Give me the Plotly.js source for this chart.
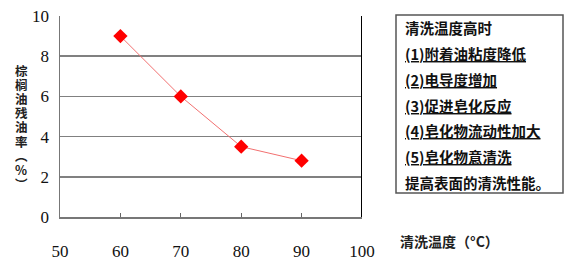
<!DOCTYPE html>
<html><head><meta charset="utf-8">
<script src="https://cdn.plot.ly/plotly-3.0.1.min.js"></script>
<style>body{margin:0;background:#fff}</style>
</head><body><div id="chart" style="width:574px;height:269px"></div>
<script>
const temperatures = [60, 70, 80, 90];
const residualOil = [9, 6, 3.5, 2.8];
const xTicks = [50, 60, 70, 80, 90, 100];
const yTicks = [0, 2, 4, 6, 8, 10];
const yTitleChars = ['棕','榈','油','残','油','率','︵','%','︶'];
const xTitle = '清洗温度（°C）';
const noteLines = [
  {text: '清洗温度高时', u: false},
  {text: '(1)附着油粘度降低', u: true},
  {text: '(2)电导度增加', u: true},
  {text: '(3)促进皂化反应', u: true},
  {text: '(4)皂化物流动性加大', u: true},
  {text: '(5)皂化物意清洗', u: true},
  {text: '提高表面的清洗性能。', u: false}
];

const W = 574, H = 269;
const m = {l: 60, r: 212, t: 16, b: 52};
const pw = W - m.l - m.r, ph = H - m.t - m.b;
const px = x => (x - m.l) / pw;
const py = y => (H - m.b - y) / ph;

const cjk = 'Noto Sans CJK SC, sans-serif';
const serif = 'Times New Roman, Liberation Serif, serif';

const annotations = [];
yTitleChars.forEach((c, i) => {
  annotations.push({xref: 'paper', yref: 'paper', x: px(21), y: py(70 + i * 14.2),
    text: '<b>' + c + '</b>', showarrow: false, xanchor: 'center', yanchor: 'middle',
    borderpad: 0, font: {family: cjk, size: 12.5, color: '#222'}});
});
annotations.push({xref: 'paper', yref: 'paper', x: px(398), y: py(241), text: '<b>' + xTitle + '</b>',
  showarrow: false, xanchor: 'left', yanchor: 'middle',
  font: {family: cjk, size: 14, color: '#222'}});
noteLines.forEach((l, i) => {
  annotations.push({xref: 'paper', yref: 'paper', x: px(403), y: py(28 + i * 25.7),
    text: l.u ? '<b><u>' + l.text + '</u></b>' : '<b>' + l.text + '</b>',
    showarrow: false, xanchor: 'left', yanchor: 'middle',
    font: {family: cjk, size: 14.5, color: '#111'}});
});

const data = [{
  x: temperatures, y: residualOil, type: 'scatter', mode: 'lines+markers',
  line: {color: '#f27070', width: 1},
  marker: {symbol: 'diamond', size: 11, color: '#ff0000'},
  cliponaxis: false
}];

const layout = {
  width: W, height: H, margin: m,
  paper_bgcolor: '#fff', plot_bgcolor: '#fff',
  showlegend: false,
  xaxis: {range: [50, 100], tickvals: xTicks, ticktext: xTicks.map(String),
    ticks: 'inside', ticklen: 4, tickcolor: '#666', tickwidth: 1,
    showline: true, linecolor: '#777', linewidth: 1.5, showgrid: false, zeroline: false,
    ticklabelstandoff: 18,
    tickfont: {family: serif, size: 17, color: '#111'}},
  yaxis: {range: [0, 10], tickvals: yTicks, ticktext: yTicks.map(String),
    ticks: '', showline: true, linecolor: '#777', linewidth: 1.5,
    showgrid: true, gridcolor: '#808080', gridwidth: 1.5, zeroline: false,
    ticklabelstandoff: 6,
    tickfont: {family: serif, size: 17, color: '#111'}},
  shapes: [
    {type: 'line', xref: 'x', yref: 'y', x0: 100, x1: 100, y0: 0, y1: 10,
      line: {color: '#000', width: 2}},
    {type: 'rect', xref: 'paper', yref: 'paper', x0: px(396), x1: px(563), y0: py(193), y1: py(15),
      line: {color: '#555', width: 1.5}}
  ],
  annotations: annotations
};
Plotly.newPlot('chart', data, layout, {staticPlot: true, displayModeBar: false});
</script></body></html>
